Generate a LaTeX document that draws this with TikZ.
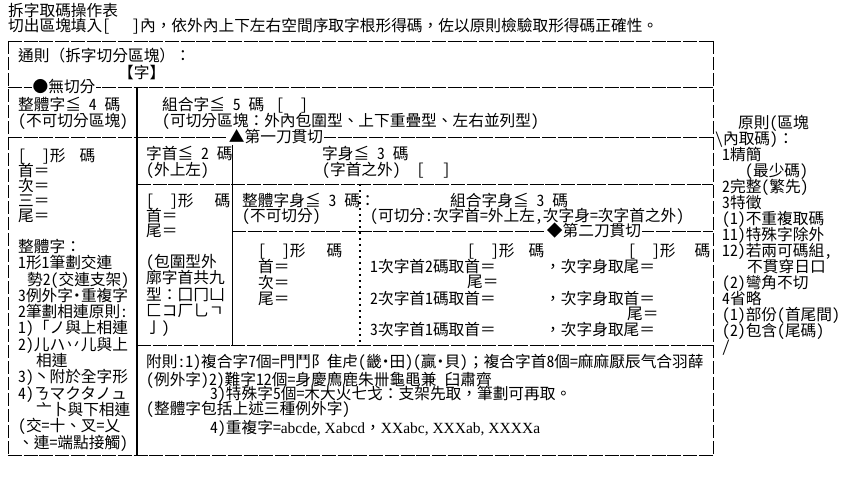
\documentclass[tikz,border=0pt]{standalone}
\usepackage{fontspec}
\setmainfont{Noto Sans CJK TC}[RawFeature=+hwid]
\newfontfamily\fullw{Noto Sans CJK TC}
\newfontfamily\romanabc{Liberation Serif}
\newcommand\txtsize[1]{\fontsize{15.7}{#1}\selectfont\lineskiplimit=-100pt\lineskip=0pt}
\newcommand\full[1]{{\fullw #1}}
\newcommand\mdot{\makebox[7.85pt]{\fullw ·}}

\begin{document}
\begin{tikzpicture}[x=1pt, y=-1pt,
  every node/.style={font=\txtsize{16}, inner sep=0pt, anchor=north west, align=left},
  hrule/.style={line width=0.9pt, dash pattern=on 14pt off 1.7pt},
  vrule/.style={line width=0.9pt, dash pattern=on 13pt off 3pt},
  cutmark/.style={fill=white, inner sep=0.6pt, anchor=center}]
\useasboundingbox (0,0) rectangle (844,478);

% table rules
\draw[hrule] (8,41) -- (713,41);
\draw[hrule] (8,87) -- (713,87);
\draw[hrule] (8,137) -- (713,137);
\draw[hrule] (137,184) -- (713,184);
\draw[hrule] (232,231) -- (713,231);
\draw[hrule] (137,345) -- (713,345);
\draw[hrule] (8,455) -- (713,455);
\draw[vrule] (8,41) -- (8,455);
\draw[vrule] (713,41) -- (713,455);
\draw[line width=1.6pt] (137,87) -- (137,455);
\draw[line width=0.9pt] (232,137) -- (232,345);
\draw[line width=1.5pt, dash pattern=on 2pt off 4pt] (360,184) -- (360,345);

% titles
\node (title) at (8,3) {拆字取碼操作表};
\node (hint) at (8,18) {切出區塊填入[\hspace{22pt}]內\full{，}依外內上下左右空間序取字根形得碼\full{，}佐以原則檢驗取形得碼正確性。};

% general rule
\node (general) at (18,48) {通則\full{（}拆字切分區塊\full{）：}};
\node (zi) at (118,65) {【字】};
\node (whole) at (18,97) {整體字≦ 4 碼\\(不可切分區塊)};
\node (compound) at (162,97) {組合字≦ 5 碼\hspace{12pt}[\hspace{16pt}]\\(可切分區塊\full{：}外內包圍型、上下重疊型、左右並列型)};

% left column
\node[font=\txtsize{15}] (leftcodes) at (18,148) {[\hspace{16pt}]形\hspace{14pt}碼\\首\full{＝}\\次\full{＝}\\三\full{＝}\\尾\full{＝}};
\node[font=\txtsize{16.3}] (notes) at (18,239) {整體字\full{：}\\1形1筆劃交連\\\hspace{9pt}勢2(交連支架)\\3例外字\mdot 重複字\\2筆劃相連原則:\\1)「ノ與上相連\\2)儿ハ丷儿與上\\\hspace{18pt}相連\\3)丶附於全字形\\4)ㄋマクタノュ\\\hspace{18pt}亠卜與下相連\\(交=十、叉=乂\\、連=端點接觸)};

% first cut
\node (head) at (146,146) {字首≦ 2 碼\\(外上左)};
\node (body) at (322,146) {字身≦ 3 碼\\(字首之外)\hspace{16pt}[\hspace{18pt}]};
\node[font=\txtsize{15}] (headcodes) at (146,193) {[\hspace{16pt}]形\hspace{21pt}碼\\首\full{＝}\\尾\full{＝}};
\node[font=\txtsize{16.5}] (enclose) at (146,254) {(包圍型外\\廓字首共九\\型\full{：}囗冂凵\\匚コ厂乚ㄱ\\亅)};

% second cut
\node[font=\txtsize{15.5}] (wholebody) at (242,193) {整體字身≦ 3 碼\full{：}\\(不可切分)};
\node (compbody) at (450,193) {組合字身≦ 3 碼};
\node (compnote) at (370,208) {(可切分:次字首=外上左,次字身=次字首之外)};
\node (wbcodes) at (258,243) {[\hspace{16pt}]形\hspace{21pt}碼\\首\full{＝}\\次\full{＝}\\尾\full{＝}};
\node (hcodes) at (467,243) {[\hspace{16pt}]形\hspace{14pt}碼};
\node (bcodes) at (628,243) {[\hspace{16pt}]形\hspace{19pt}碼};
\node (rowa) at (370,259) {1次字首2碼取首\full{＝}};
\node (rowatail) at (467,275) {尾\full{＝}};
\node (rowb) at (370,291) {2次字首1碼取首\full{＝}};
\node (rowc) at (370,322) {3次字首1碼取首\full{＝}};
\node (taila) at (545,259) {\full{，}次字身取尾\full{＝}};
\node (tailb) at (545,291) {\full{，}次字身取首\full{＝}};
\node (tailbend) at (627,307) {尾\full{＝}};
\node (tailc) at (545,322) {\full{，}次字身取尾\full{＝}};

% principles
\node (principle) at (722,115) {\hspace{16pt}原則(區塊\\\hspace{-7pt}＼內取碼)\full{：}\\1精簡\\\hspace{23pt}(最少碼)\\2完整(繁先)\\3特徵\\(1)不重複取碼\\11)特殊字除外\\12)若兩可碼組,\\\hspace{25pt}不貫穿日口\\(2)彎角不切\\4省略\\(1)部份(首尾間)\\(2)包含(尾碼)\\／};

% appendix
\node (apa) at (146,354) {附則:1)複合字7個=門鬥阝隹虍(畿\mdot 田)(贏\mdot 貝)\full{；}複合字首8個=麻麻厭辰气合羽薛};
\node (apb) at (146,372) {(例外字)2)難字12個=身慶廌鹿朱卌龜黽兼\hspace{8pt}臼肅齊};
\node (apc) at (210,386) {3)特殊字5個=木大火七戈\full{：}支架先取\full{，}筆劃可再取。};
\node (apd) at (146,401) {(整體字包括上述三種例外字)};
\node (ape) at (210,420) {4)重複字={\romanabc\fontsize{15.5}{16}\selectfont abcde, Xabcd}\full{，}{\romanabc\fontsize{15.5}{16}\selectfont XXabc, XXXab, XXXXa}};

% cut marks on the rules
\node[cutmark] (nocut) at (64,87) {●無切分};
\node[cutmark] (cutone) at (276,137) {▲第一刀貫切};
\node[cutmark] (cuttwo) at (594,231) {◆第二刀貫切};
\end{tikzpicture}
\end{document}
